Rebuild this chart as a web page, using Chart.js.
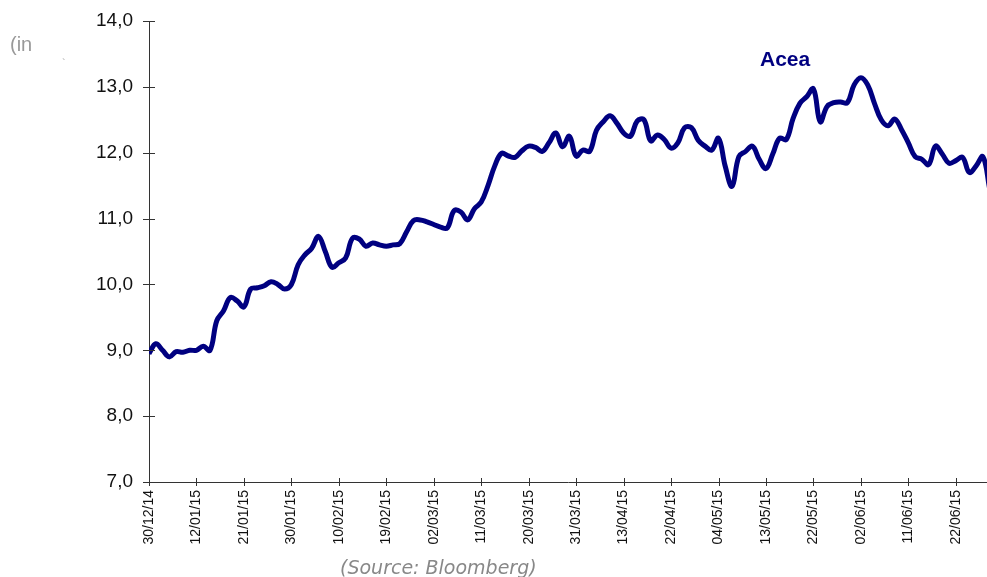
<!DOCTYPE html>
<html>
<head>
<meta charset="utf-8">
<script src="https://cdn.jsdelivr.net/npm/chart.js@4.4.1/dist/chart.umd.min.js"></script>
<style>
  html, body { margin: 0; padding: 0; background: #fff; }
  #wrap { position: relative; width: 987px; height: 577px; overflow: hidden; }
  #c { position: absolute; left: 0; top: 0; }
  .txt { position: absolute; white-space: nowrap; }
  #unit { left: 10px; top: 33px; font: 20px "Liberation Sans", Arial, sans-serif; color: #999; }
  #tick { left: 62px; top: 57px; font: 11px "Liberation Sans", Arial, sans-serif; color: #aaa; }
  #title { left: 760px; top: 47px; font: bold 21px "Liberation Sans", Arial, sans-serif; color: #000080; }
  #src { left: 340px; top: 556px; font: italic 19px "DejaVu Sans", Verdana, sans-serif; color: #888; }
</style>
</head>
<body>
<div id="wrap">
  <canvas id="c" width="987" height="577"></canvas>
  <div class="txt" id="unit">(in</div>
  <div class="txt" id="tick">`</div>
  <div class="txt" id="title">Acea</div>
  <div class="txt" id="src">(Source: Bloomberg)</div>
</div>
<script>
// Tick labels shown every 7 trading sessions
const tickLabels = ["30/12/14","12/01/15","21/01/15","30/01/15","10/02/15","19/02/15","02/03/15","11/03/15","20/03/15","31/03/15","13/04/15","22/04/15","04/05/15","13/05/15","22/05/15","02/06/15","11/06/15","22/06/15"];
const seriesName = "Acea";
// Daily closing price (EUR), one value per trading session
const prices = [
  8.95, 9.10, 9.00, 8.90, 8.98, 8.97, 9.00, 9.00, 9.06, 9.00,
  9.45, 9.60, 9.80, 9.75, 9.66, 9.93, 9.95, 9.98, 10.04, 10.00,
  9.93, 10.00, 10.30, 10.45, 10.55, 10.73, 10.50, 10.26, 10.33, 10.40,
  10.70, 10.69, 10.58, 10.63, 10.60, 10.58, 10.60, 10.62, 10.80, 10.97,
  10.98, 10.95, 10.91, 10.87, 10.86, 11.12, 11.10, 10.98, 11.15, 11.25,
  11.50, 11.80, 11.99, 11.95, 11.93, 12.03, 12.10, 12.08, 12.02, 12.15,
  12.30, 12.09, 12.25, 11.95, 12.04, 12.02, 12.34, 12.47, 12.56, 12.45,
  12.30, 12.25, 12.48, 12.50, 12.18, 12.27, 12.20, 12.07, 12.15, 12.38,
  12.38, 12.19, 12.10, 12.04, 12.22, 11.79, 11.49, 11.94, 12.02, 12.10,
  11.90, 11.76, 11.98, 12.22, 12.20, 12.52, 12.75, 12.85, 12.97, 12.47,
  12.70, 12.76, 12.77, 12.76, 13.03, 13.14, 13.03, 12.75, 12.50, 12.41,
  12.51, 12.35, 12.15, 11.94, 11.90, 11.82, 12.10, 11.98, 11.84, 11.88,
  11.93, 11.70, 11.80, 11.94, 11.45
];
const yMin = 7, yMax = 14, yStep = 1;
const tickEvery = 7;

const points = prices.map((v, i) => ({ x: i, y: v }));

const crossTicks = {
  id: 'crossTicks',
  afterDraw(chart) {
    const ctx = chart.ctx;
    const xs = chart.scales.x, ys = chart.scales.y;
    ctx.save();
    ctx.strokeStyle = '#333';
    ctx.lineWidth = 1;
    ctx.beginPath();
    ys.ticks.forEach(t => {
      const py = Math.round(ys.getPixelForValue(t.value)) + 0.5;
      ctx.moveTo(xs.left - 6, py);
      ctx.lineTo(xs.left + 6, py);
    });
    xs.ticks.forEach(t => {
      const px = Math.round(xs.getPixelForValue(t.value)) + 0.5;
      ctx.moveTo(px, ys.bottom - 4);
      ctx.lineTo(px, ys.bottom + 4);
    });
    ctx.stroke();
    ctx.restore();
  }
};

new Chart(document.getElementById('c'), {
  type: 'line',
  data: {
    datasets: [{
      label: seriesName,
      data: points,
      borderColor: '#000080',
      borderWidth: 5,
      pointRadius: 0,
      tension: 0.4,
      fill: false
    }]
  },
  options: {
    responsive: false,
    animation: false,
    layout: { padding: { top: 21, right: 0, left: 0, bottom: 0 } },
    plugins: { legend: { display: false }, tooltip: { enabled: false } },
    scales: {
      x: {
        type: 'linear',
        min: 0,
        max: 123.6,
        afterBuildTicks(scale) {
          scale.ticks = tickLabels.map((_, i) => ({ value: i * tickEvery }));
        },
        afterFit(scale) { scale.height = 95; scale.paddingLeft = 0; scale.paddingRight = 0; },
        grid: { display: false },
        border: { display: true, color: '#333', width: 1 },
        ticks: {
          autoSkip: false,
          minRotation: 90,
          maxRotation: 90,
          padding: 0,
          color: '#111',
          font: { family: '"Liberation Sans", Arial, sans-serif', size: 14 },
          callback: (v) => tickLabels[Math.round(v / tickEvery)]
        }
      },
      y: {
        min: yMin,
        max: yMax,
        afterFit(scale) { scale.width = 149; scale.paddingTop = 0; scale.paddingBottom = 0; },
        grid: { display: false },
        border: { display: true, color: '#333', width: 1 },
        ticks: {
          stepSize: yStep,
          padding: 8,
          color: '#111',
          font: { family: '"Liberation Sans", Arial, sans-serif', size: 19 },
          callback: (v) => v.toFixed(1).replace('.', ',')
        }
      }
    }
  },
  plugins: [crossTicks]
});
</script>
</body>
</html>
